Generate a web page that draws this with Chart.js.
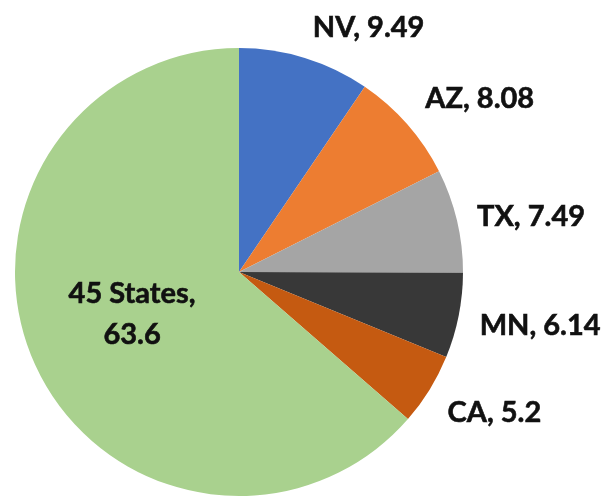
<!DOCTYPE html>
<html>
<head>
<meta charset="utf-8">
<script src="https://cdn.jsdelivr.net/npm/chart.js@4"></script>
<style>
    html, body { margin: 0; padding: 0; background: #ffffff; }
    #wrap { width: 613px; height: 497px; position: relative; }
</style>
</head>
<body>
<div id="wrap"><canvas id="pieChart"></canvas></div>
<script>
    // Dữ liệu biểu đồ
    const stateLabels = ['NV', 'AZ', 'TX', 'MN', 'CA', '45 States'];
    const stateValues = [9.49, 8.08, 7.49, 6.14, 5.2, 63.6];
    const sliceColors = ['#4472C4', '#ED7D31', '#A5A5A5', '#383838', '#C55A11', '#A9D18E'];

    // Độ lệch nhãn so với mép lát (trái, đường chân chữ)
    const labelNudge = [[8, -21], [18, -16], [20, 5], [21, 19], [18, 32]];

    const labelFont = 'bold 29px Lato, "DejaVu Sans", sans-serif';

    const sliceLabels = {
        id: 'sliceLabels',
        afterDatasetsDraw(chart) {
            const ctx = chart.ctx;
            const meta = chart.getDatasetMeta(0);
            ctx.save();
            ctx.font = labelFont;
            ctx.fillStyle = '#111111';
            ctx.strokeStyle = '#111111';
            ctx.lineWidth = 0.6;
            ctx.textBaseline = 'alphabetic';
            const draw = (text, x, y) => {
                ctx.fillText(text, x, y);
                ctx.strokeText(text, x, y);
            };
            meta.data.forEach((arc, i) => {
                const mid = (arc.startAngle + arc.endAngle) / 2;
                const ex = arc.x + Math.cos(mid) * arc.outerRadius;
                const ey = arc.y + Math.sin(mid) * arc.outerRadius;
                const value = stateValues[i];
                if (i < labelNudge.length) {
                    ctx.textAlign = 'left';
                    draw(stateLabels[i] + ', ' + value, ex + labelNudge[i][0], ey + labelNudge[i][1]);
                } else {
                    // Nhãn bên trong lát lớn
                    const ix = arc.x + Math.cos(mid) * arc.outerRadius * 0.5;
                    const iy = arc.y + Math.sin(mid) * arc.outerRadius * 0.5;
                    ctx.textAlign = 'center';
                    draw(stateLabels[i] + ',', ix - 5, iy - 15);
                    draw(String(value), ix - 5, iy + 26);
                }
            });
            ctx.restore();
        }
    };

    const ctx = document.getElementById('pieChart').getContext('2d');
    new Chart(ctx, {
        type: 'pie',
        data: {
            labels: stateLabels,
            datasets: [{
                data: stateValues,
                backgroundColor: sliceColors,
                borderWidth: 0
            }]
        },
        options: {
            responsive: true,
            maintainAspectRatio: false,
            animation: false,
            layout: {
                padding: { left: 15, right: 150, top: 48, bottom: 1 }
            },
            plugins: {
                legend: { display: false },
                tooltip: { enabled: false }
            }
        },
        plugins: [sliceLabels]
    });
</script>
</body>
</html>
